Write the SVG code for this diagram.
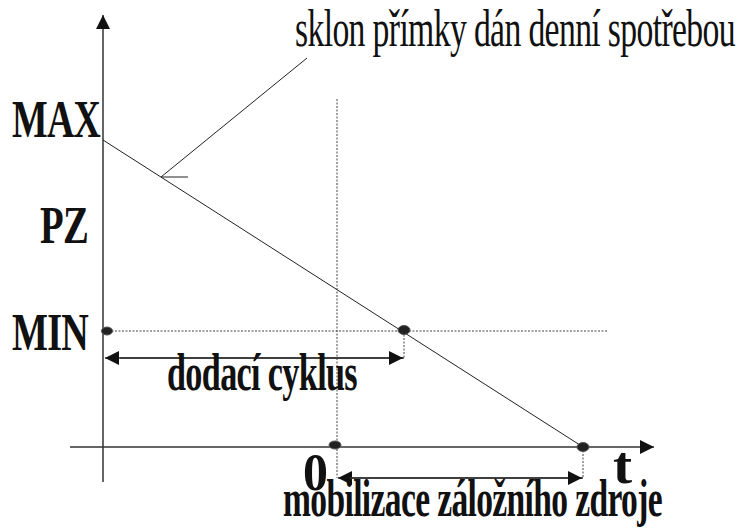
<svg xmlns="http://www.w3.org/2000/svg" width="741" height="528" viewBox="0 0 741 528">
<style>
.t{font-family:"Liberation Serif","Times New Roman",serif;fill:#111;letter-spacing:-1px}
.b{font-weight:bold}
.ln{stroke:#222;stroke-width:1;fill:none}
.ax{stroke:#333;stroke-width:1.5;fill:none}
.dot{stroke:#444;stroke-width:1;stroke-dasharray:2 1.5;fill:none}
.pt{fill:#222;stroke:#555;stroke-width:1}
</style>
<defs>
<marker id="ah2" viewBox="0 0 10 10" refX="10" refY="5" markerWidth="18" markerHeight="14" markerUnits="userSpaceOnUse" orient="auto"><path d="M0,0 L10,5 L0,10 Z" fill="#111"/></marker>
</defs>
<g id="connectors">
<line class="ax" x1="103" y1="482" x2="103" y2="15" marker-end="url(#ah2)"/>
<line class="ax" x1="70" y1="447" x2="654" y2="447" marker-end="url(#ah2)"/>
<line class="ln" x1="103" y1="140" x2="583" y2="447"/>
<line class="ln" x1="161" y1="177" x2="307" y2="58"/>
<line class="ln" x1="161" y1="177" x2="188" y2="177"/>
<line class="dot" x1="337" y1="99" x2="337" y2="478"/>
<line class="dot" x1="108" y1="331" x2="608" y2="331"/>
<line class="dot" x1="404" y1="331" x2="404" y2="358"/>
<line class="dot" x1="583" y1="447" x2="583" y2="478"/>
<line class="ax" x1="404" y1="358" x2="105" y2="358" marker-end="url(#ah2)"/>
<line class="ax" x1="120" y1="358" x2="403" y2="358" marker-end="url(#ah2)"/>
<line class="ax" x1="583" y1="478" x2="338" y2="478" marker-end="url(#ah2)"/>
<line class="ax" x1="350" y1="478" x2="582" y2="478" marker-end="url(#ah2)"/>
</g>
<g id="points">
<ellipse class="pt" cx="107" cy="331" rx="5.5" ry="4"/>
<ellipse class="pt" cx="404" cy="330" rx="6" ry="4.5"/>
<ellipse class="pt" cx="335" cy="445" rx="6" ry="4"/>
<ellipse class="pt" cx="583" cy="447" rx="6" ry="4.5"/>
</g>
<g id="label-max"><text class="t b" x="12" y="137" font-size="53" textLength="88" lengthAdjust="spacingAndGlyphs">MAX</text></g>
<g id="label-pz"><text class="t b" x="40" y="243" font-size="53" textLength="48" lengthAdjust="spacingAndGlyphs">PZ</text></g>
<g id="label-min"><text class="t b" x="12" y="350" font-size="53" textLength="76" lengthAdjust="spacingAndGlyphs">MIN</text></g>
<g id="label-slope"><text class="t" x="295" y="46" font-size="53" textLength="440" lengthAdjust="spacingAndGlyphs">sklon přímky dán denní spotřebou</text></g>
<g id="label-cycle"><text class="t b" x="167" y="390" font-size="53" textLength="190" lengthAdjust="spacingAndGlyphs">dodací cyklus</text></g>
<g id="label-zero"><text class="t b" x="303" y="490" font-size="53" textLength="24" lengthAdjust="spacingAndGlyphs">0</text></g>
<g id="label-t"><text class="t b" x="613" y="483" font-size="53" textLength="18" lengthAdjust="spacingAndGlyphs">t</text></g>
<g id="label-mob"><text class="t b" x="283" y="516" font-size="53" textLength="379" lengthAdjust="spacingAndGlyphs">mobilizace záložního zdroje</text></g>
</svg>
